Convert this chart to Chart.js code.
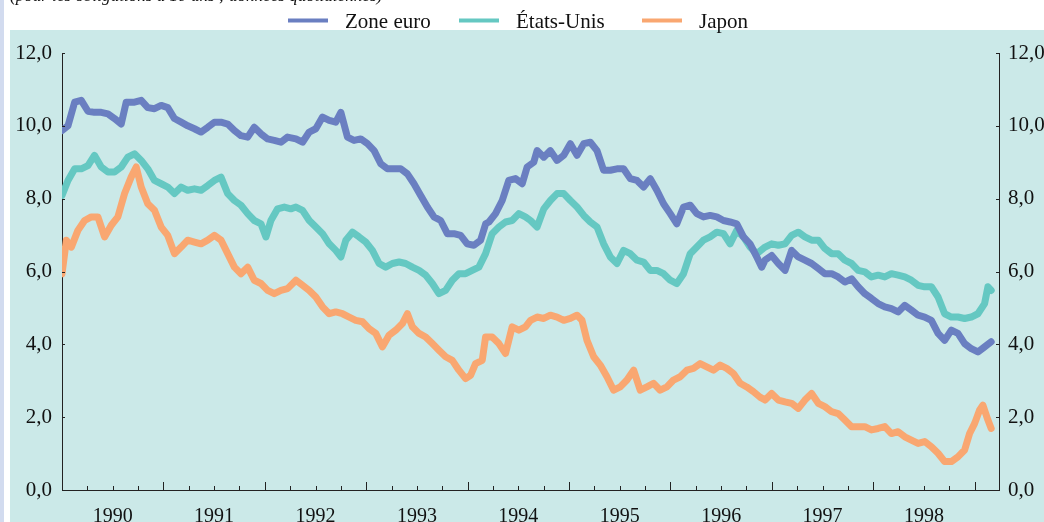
<!DOCTYPE html>
<html lang="fr">
<head>
<meta charset="utf-8">
<title>Rendements des obligations à long terme</title>
<script src="https://cdn.jsdelivr.net/npm/chart.js@4.4.1/dist/chart.umd.min.js"></script>
<style>
  html, body { margin: 0; padding: 0; background: #fff; }
  #wrap { position: relative; width: 1044px; height: 522px; overflow: hidden; }
  #strip { position: absolute; left: 0; top: 0; width: 4px; height: 522px; background: #d2dbef; }
  #panel { position: absolute; left: 10px; top: 30px; right: 0; bottom: 0; background: #cbe9e8; }
  canvas { position: absolute; left: 0; top: 0; }
</style>
</head>
<body>
<div id="wrap">
  <div id="strip"></div>
  <div id="panel"></div>
  <canvas id="chart" width="1044" height="522"></canvas>
</div>
<script>
// years on the x axis (label sits in the middle of each year)
var years = [1990, 1991, 1992, 1993, 1994, 1995, 1996, 1997, 1998];
var yTicks = [0, 2, 4, 6, 8, 10, 12];
var seriesNames = ['Zone euro', 'États-Unis', 'Japon'];
var title = '(pour les obligations à 10 ans ; données quotidiennes)';

// values, dates as decimal years
var euroDates = [1990.000, 1990.059, 1990.125, 1990.190, 1990.256, 1990.320, 1990.387, 1990.453, 1990.518, 1990.584,
  1990.633, 1990.715, 1990.781, 1990.846, 1990.912, 1990.978, 1991.043, 1991.109, 1991.175, 1991.240,
  1991.306, 1991.371, 1991.437, 1991.503, 1991.568, 1991.634, 1991.700, 1991.765, 1991.831, 1991.896,
  1991.962, 1992.028, 1992.093, 1992.159, 1992.224, 1992.307, 1992.372, 1992.438, 1992.503, 1992.569,
  1992.635, 1992.700, 1992.750, 1992.815, 1992.880, 1992.946, 1993.012, 1993.078, 1993.143, 1993.209,
  1993.275, 1993.340, 1993.406, 1993.471, 1993.537, 1993.603, 1993.668, 1993.734, 1993.800, 1993.865,
  1993.931, 1993.996, 1994.062, 1994.128, 1994.178, 1994.210, 1994.275, 1994.341, 1994.406, 1994.472,
  1994.538, 1994.587, 1994.652, 1994.685, 1994.751, 1994.816, 1994.882, 1994.948, 1995.013, 1995.079,
  1995.145, 1995.210, 1995.276, 1995.341, 1995.407, 1995.473, 1995.538, 1995.604, 1995.670, 1995.735,
  1995.801, 1995.866, 1995.932, 1995.998, 1996.063, 1996.129, 1996.195, 1996.260, 1996.326, 1996.391,
  1996.457, 1996.523, 1996.588, 1996.654, 1996.720, 1996.785, 1996.851, 1996.900, 1996.933, 1996.998,
  1997.064, 1997.130, 1997.195, 1997.261, 1997.326, 1997.392, 1997.458, 1997.523, 1997.589, 1997.654,
  1997.720, 1997.786, 1997.851, 1997.917, 1997.982, 1998.048, 1998.114, 1998.179, 1998.245, 1998.311,
  1998.376, 1998.442, 1998.507, 1998.573, 1998.639, 1998.704, 1998.770, 1998.835, 1998.901, 1998.967,
  1999.032, 1999.098, 1999.163];
var euroValues = [9.87, 10.00, 10.65, 10.70, 10.40, 10.37, 10.37, 10.33, 10.20, 10.05,
  10.65, 10.65, 10.70, 10.50, 10.47, 10.56, 10.50, 10.20, 10.10, 10.00,
  9.92, 9.83, 9.96, 10.10, 10.10, 10.05, 9.87, 9.73, 9.69, 9.96,
  9.78, 9.64, 9.60, 9.55, 9.69, 9.64, 9.55, 9.83, 9.92, 10.24,
  10.15, 10.10, 10.37, 9.69, 9.60, 9.64, 9.51, 9.32, 8.96, 8.82,
  8.82, 8.82, 8.68, 8.41, 8.09, 7.77, 7.50, 7.40, 7.04, 7.04,
  6.99, 6.76, 6.72, 6.86, 7.31, 7.36, 7.59, 7.95, 8.50, 8.55,
  8.41, 8.87, 9.00, 9.32, 9.14, 9.32, 9.05, 9.19, 9.51, 9.19,
  9.51, 9.55, 9.32, 8.78, 8.78, 8.82, 8.82, 8.55, 8.50, 8.32,
  8.55, 8.23, 7.86, 7.59, 7.31, 7.77, 7.82, 7.59, 7.50, 7.54,
  7.50, 7.40, 7.36, 7.31, 6.95, 6.76, 6.40, 6.12, 6.31, 6.44,
  6.22, 6.03, 6.58, 6.40, 6.31, 6.22, 6.08, 5.94, 5.94, 5.85,
  5.71, 5.80, 5.58, 5.39, 5.26, 5.12, 5.03, 4.98, 4.89, 5.07,
  4.94, 4.80, 4.75, 4.66, 4.30, 4.11, 4.39, 4.30, 4.02, 3.88,
  3.79, 3.93, 4.07];

var usDates = [1990.000, 1990.059, 1990.125, 1990.190, 1990.256, 1990.320, 1990.387, 1990.453, 1990.518, 1990.584,
  1990.649, 1990.715, 1990.781, 1990.846, 1990.912, 1990.978, 1991.043, 1991.109, 1991.175, 1991.240,
  1991.306, 1991.371, 1991.437, 1991.503, 1991.568, 1991.634, 1991.700, 1991.765, 1991.831, 1991.896,
  1991.962, 1992.011, 1992.060, 1992.126, 1992.192, 1992.257, 1992.307, 1992.372, 1992.438, 1992.503,
  1992.569, 1992.635, 1992.700, 1992.750, 1992.799, 1992.864, 1992.930, 1992.995, 1993.061, 1993.127,
  1993.192, 1993.258, 1993.324, 1993.389, 1993.455, 1993.521, 1993.586, 1993.652, 1993.717, 1993.783,
  1993.849, 1993.914, 1993.980, 1994.045, 1994.111, 1994.177, 1994.242, 1994.308, 1994.374, 1994.439,
  1994.505, 1994.570, 1994.620, 1994.685, 1994.751, 1994.816, 1994.882, 1994.948, 1995.013, 1995.079,
  1995.145, 1995.210, 1995.276, 1995.341, 1995.407, 1995.473, 1995.538, 1995.604, 1995.670, 1995.735,
  1995.801, 1995.866, 1995.932, 1995.998, 1996.063, 1996.129, 1996.195, 1996.260, 1996.326, 1996.391,
  1996.457, 1996.523, 1996.588, 1996.654, 1996.720, 1996.785, 1996.851, 1996.933, 1996.998, 1997.064,
  1997.130, 1997.195, 1997.261, 1997.326, 1997.392, 1997.458, 1997.523, 1997.589, 1997.654, 1997.720,
  1997.786, 1997.851, 1997.917, 1997.982, 1998.048, 1998.114, 1998.179, 1998.245, 1998.311, 1998.376,
  1998.442, 1998.507, 1998.573, 1998.639, 1998.704, 1998.770, 1998.835, 1998.901, 1998.967, 1999.032,
  1999.098, 1999.131, 1999.163];
var usValues = [8.09, 8.50, 8.82, 8.82, 8.91, 9.19, 8.87, 8.73, 8.73, 8.87,
  9.14, 9.23, 9.05, 8.82, 8.50, 8.41, 8.32, 8.14, 8.32, 8.23,
  8.27, 8.23, 8.36, 8.50, 8.59, 8.14, 7.95, 7.82, 7.59, 7.40,
  7.31, 6.95, 7.40, 7.72, 7.77, 7.72, 7.77, 7.68, 7.40, 7.22,
  7.04, 6.76, 6.58, 6.40, 6.86, 7.08, 6.95, 6.81, 6.58, 6.22,
  6.12, 6.22, 6.26, 6.22, 6.12, 6.03, 5.90, 5.67, 5.39, 5.48,
  5.76, 5.94, 5.94, 6.03, 6.12, 6.49, 7.04, 7.22, 7.36, 7.40,
  7.59, 7.50, 7.40, 7.22, 7.72, 7.95, 8.14, 8.14, 7.95, 7.77,
  7.54, 7.36, 7.22, 6.76, 6.40, 6.22, 6.58, 6.49, 6.31, 6.26,
  6.03, 6.03, 5.94, 5.76, 5.67, 5.94, 6.49, 6.67, 6.86, 6.95,
  7.08, 7.04, 6.76, 7.13, 6.95, 6.67, 6.49, 6.67, 6.76, 6.72,
  6.76, 6.99, 7.08, 6.95, 6.86, 6.86, 6.63, 6.49, 6.49, 6.31,
  6.22, 6.03, 5.99, 5.85, 5.90, 5.85, 5.94, 5.90, 5.85, 5.76,
  5.62, 5.58, 5.58, 5.30, 4.84, 4.75, 4.75, 4.71, 4.75, 4.84,
  5.12, 5.58, 5.48];

var japanDates = [1990.000, 1990.043, 1990.092, 1990.157, 1990.223, 1990.289, 1990.354, 1990.420, 1990.486, 1990.551,
  1990.617, 1990.682, 1990.732, 1990.781, 1990.846, 1990.912, 1990.978, 1991.043, 1991.109, 1991.175,
  1991.240, 1991.306, 1991.371, 1991.437, 1991.503, 1991.568, 1991.634, 1991.700, 1991.765, 1991.831,
  1991.896, 1991.962, 1992.028, 1992.093, 1992.159, 1992.224, 1992.307, 1992.372, 1992.438, 1992.503,
  1992.569, 1992.635, 1992.700, 1992.766, 1992.832, 1992.897, 1992.963, 1993.028, 1993.094, 1993.160,
  1993.225, 1993.291, 1993.357, 1993.406, 1993.455, 1993.521, 1993.586, 1993.652, 1993.717, 1993.783,
  1993.849, 1993.914, 1993.980, 1994.029, 1994.078, 1994.144, 1994.177, 1994.242, 1994.308, 1994.374,
  1994.439, 1994.505, 1994.570, 1994.620, 1994.685, 1994.751, 1994.816, 1994.882, 1994.948, 1995.013,
  1995.079, 1995.128, 1995.177, 1995.243, 1995.308, 1995.374, 1995.440, 1995.505, 1995.571, 1995.637,
  1995.702, 1995.768, 1995.834, 1995.899, 1995.965, 1996.030, 1996.096, 1996.162, 1996.227, 1996.293,
  1996.358, 1996.424, 1996.490, 1996.555, 1996.621, 1996.687, 1996.752, 1996.818, 1996.883, 1996.933,
  1996.998, 1997.064, 1997.130, 1997.195, 1997.261, 1997.326, 1997.392, 1997.458, 1997.523, 1997.589,
  1997.654, 1997.720, 1997.786, 1997.851, 1997.917, 1997.982, 1998.048, 1998.114, 1998.179, 1998.245,
  1998.311, 1998.376, 1998.442, 1998.507, 1998.573, 1998.639, 1998.704, 1998.770, 1998.835, 1998.901,
  1998.950, 1999.000, 1999.048, 1999.081, 1999.131, 1999.163];
var japanValues = [5.94, 6.86, 6.67, 7.13, 7.40, 7.50, 7.50, 6.95, 7.27, 7.50,
  8.14, 8.59, 8.87, 8.32, 7.86, 7.68, 7.22, 6.99, 6.49, 6.67,
  6.86, 6.81, 6.76, 6.86, 6.99, 6.86, 6.49, 6.12, 5.94, 6.12,
  5.76, 5.67, 5.48, 5.39, 5.48, 5.53, 5.76, 5.62, 5.48, 5.30,
  5.03, 4.84, 4.89, 4.84, 4.75, 4.66, 4.62, 4.43, 4.30, 3.93,
  4.25, 4.39, 4.57, 4.84, 4.48, 4.30, 4.20, 4.02, 3.84, 3.66,
  3.56, 3.29, 3.06, 3.15, 3.47, 3.56, 4.20, 4.20, 4.02, 3.75,
  4.48, 4.39, 4.48, 4.66, 4.75, 4.71, 4.80, 4.75, 4.66, 4.71,
  4.80, 4.66, 4.11, 3.66, 3.43, 3.11, 2.74, 2.83, 3.02, 3.29,
  2.74, 2.83, 2.93, 2.74, 2.83, 3.02, 3.11, 3.29, 3.34, 3.47,
  3.38, 3.29, 3.43, 3.34, 3.20, 2.93, 2.83, 2.70, 2.55, 2.47,
  2.65, 2.47, 2.42, 2.38, 2.24, 2.47, 2.65, 2.38, 2.29, 2.15,
  2.10, 1.92, 1.74, 1.74, 1.74, 1.65, 1.69, 1.74, 1.55, 1.60,
  1.46, 1.37, 1.28, 1.33, 1.19, 1.01, 0.78, 0.78, 0.91, 1.10,
  1.55, 1.83, 2.19, 2.33, 1.92, 1.69];

var colors = ['#6a7fc1', '#65c8c2', '#f9a771'];
var serif = '"Liberation Serif", "DejaVu Serif", serif';

function toPoints(dates, values) {
    return dates.map((d, i) => ({ x: d, y: values[i] }));
}

function frNumber(v) {
    return v.toFixed(1).replace('.', ',');
}

// quarter ticks for the bottom axis, long ones at each new year
var xTicks = [];
years.forEach(y => { [0, 0.25, 0.5, 0.75].forEach(q => xTicks.push(y + q)); });
xTicks.push(years[years.length - 1] + 1);

var decorations = {
    id: 'decorations',
    afterDraw(chart) {
        var ctx = chart.ctx;
        var a = chart.chartArea;
        var x = chart.scales.x, y = chart.scales.y;
        ctx.save();

        // inward tick marks
        ctx.strokeStyle = '#222';
        ctx.lineWidth = 1;
        ctx.beginPath();
        xTicks.forEach(v => {
            if (v <= x.min) return;
            var px = Math.round(x.getPixelForValue(v)) + 0.5;
            var major = Math.abs(v - Math.round(v)) < 1e-6;
            ctx.moveTo(px, a.bottom);
            ctx.lineTo(px, a.bottom - (major ? 8 : 4));
        });
        yTicks.forEach(v => {
            var py = Math.round(y.getPixelForValue(v)) + 0.5;
            ctx.moveTo(a.left, py); ctx.lineTo(a.left + 3, py);
            ctx.moveTo(a.right, py); ctx.lineTo(a.right - 3, py);
        });
        ctx.stroke();

        // legend
        var lineX = [288, 459, 642];
        ctx.font = '21px ' + serif;
        ctx.textBaseline = 'alphabetic';
        chart.data.datasets.forEach((ds, i) => {
            ctx.fillStyle = ds.borderColor;
            ctx.fillRect(lineX[i], 18.5, 40, 4);
            ctx.fillStyle = '#111';
            ctx.fillText(ds.label, lineX[i] + 57, 28);
        });

        // subtitle, cut by the top edge as in the original
        ctx.font = 'italic 15px ' + serif;
        var w = ctx.measureText(title).width;
        var size = 15 * 373 / w;
        ctx.font = 'italic ' + size.toFixed(1) + 'px ' + serif;
        ctx.fillText(title, 10, 0.5);
        ctx.restore();
    }
};

var axisFont = { family: serif, size: 21 };

new Chart(document.getElementById('chart'), {
    type: 'line',
    data: {
        datasets: [
            { label: seriesNames[0], data: toPoints(euroDates, euroValues), borderColor: colors[0] },
            { label: seriesNames[1], data: toPoints(usDates, usValues), borderColor: colors[1] },
            { label: seriesNames[2], data: toPoints(japanDates, japanValues), borderColor: colors[2] }
        ]
    },
    options: {
        responsive: false,
        animation: false,
        events: [],
        layout: { padding: { top: 53, left: 0, right: 0, bottom: 0 } },
        elements: {
            point: { radius: 0 },
            line: { borderWidth: 7, tension: 0, borderJoinStyle: 'round', borderCapStyle: 'round' }
        },
        plugins: { legend: { display: false }, tooltip: { enabled: false } },
        scales: {
            x: {
                type: 'linear',
                min: 1990,
                max: 1999.24,
                grid: { display: false, drawTicks: false },
                border: { display: true, color: '#222', width: 1 },
                afterBuildTicks: s => { s.ticks = xTicks.map(v => ({ value: v })); },
                afterFit: s => { s.height = 32; },
                ticks: {
                    autoSkip: false,
                    maxRotation: 0,
                    padding: 15,
                    color: '#111',
                    font: { family: serif, size: 20 },
                    callback: v => (Math.abs(v - Math.floor(v) - 0.5) < 1e-6 ? String(Math.floor(v)) : '')
                }
            },
            y: {
                position: 'left',
                min: 0,
                max: 12,
                grid: { display: false, drawTicks: false },
                border: { display: true, color: '#222', width: 1 },
                afterBuildTicks: s => { s.ticks = yTicks.map(v => ({ value: v })); },
                afterFit: s => { s.width = 62; },
                ticks: { padding: 10, color: '#111', font: axisFont, callback: v => frNumber(v) }
            },
            y2: {
                position: 'right',
                display: true,
                min: 0,
                max: 12,
                grid: { display: false, drawTicks: false },
                border: { display: true, color: '#222', width: 1 },
                afterBuildTicks: s => { s.ticks = yTicks.map(v => ({ value: v })); },
                afterFit: s => { s.width = 45; },
                ticks: { padding: 9, color: '#111', font: axisFont, callback: v => frNumber(v) }
            }
        }
    },
    plugins: [decorations]
});
</script>
</body>
</html>
